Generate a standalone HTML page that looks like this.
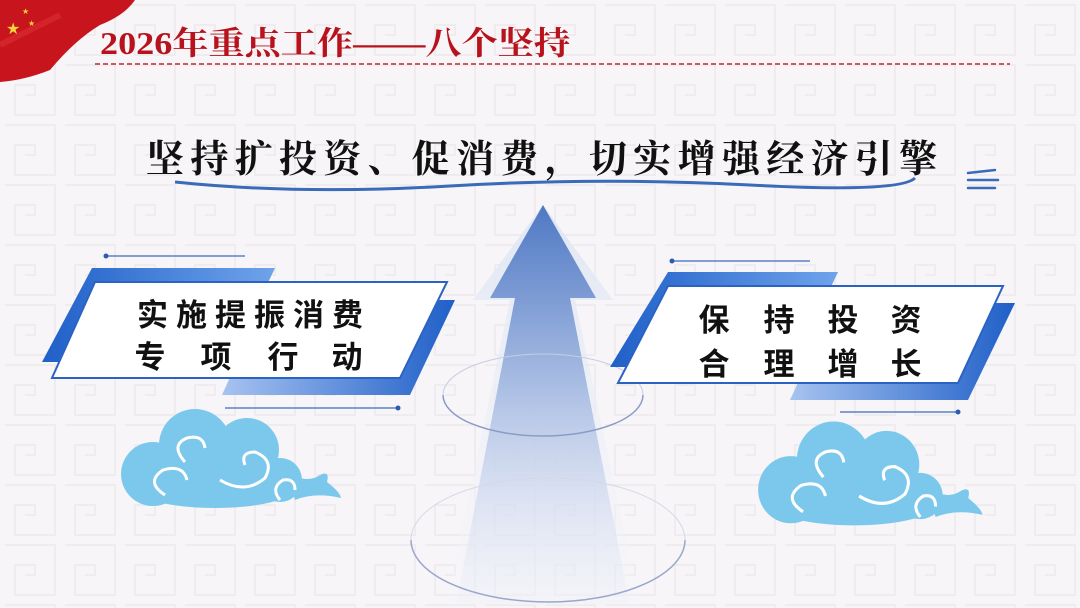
<!DOCTYPE html>
<html><head><meta charset="utf-8"><style>
html,body{margin:0;padding:0;width:1080px;height:608px;overflow:hidden;background:#f6f4f6}
svg{display:block}
</style></head><body>
<svg width="1080" height="608" viewBox="0 0 1080 608" xmlns="http://www.w3.org/2000/svg">
<defs>
<pattern id="bg" width="60" height="60" patternUnits="userSpaceOnUse">
<rect width="60" height="60" fill="#f7f5f7"/>
<path d="M5 5h50v50h-40v-30h20v10h-10" fill="none" stroke="#efecef" stroke-width="2"/>
</pattern>
<linearGradient id="arr" x1="0" y1="0" x2="0" y2="1">
<stop offset="0" stop-color="#4f78c4"/><stop offset="0.45" stop-color="#a9bde3"/><stop offset="1" stop-color="#eef1f9" stop-opacity="0.3"/>
</linearGradient>
<linearGradient id="arr2" x1="0" y1="0" x2="0" y2="1">
<stop offset="0" stop-color="#dfe6f4"/><stop offset="1" stop-color="#f4f5fa" stop-opacity="0.2"/>
</linearGradient>
<linearGradient id="bl" x1="0" y1="0" x2="1" y2="0">
<stop offset="0" stop-color="#1f5fc8"/><stop offset="1" stop-color="#6fa3ea"/>
</linearGradient>
<linearGradient id="bl2" x1="0" y1="0" x2="1" y2="0">
<stop offset="0" stop-color="#a7c3f0"/><stop offset="1" stop-color="#1f5fc8"/>
</linearGradient>
<g id="cloud">
<circle cx="80" cy="45" r="36" fill="#7cc8ec"/>
<circle cx="38" cy="74" r="32" fill="#7cc8ec"/>
<circle cx="132" cy="50" r="32" fill="#7cc8ec"/>
<circle cx="165" cy="80" r="22" fill="#7cc8ec"/>
<ellipse cx="100" cy="88" rx="80" ry="20" fill="#7cc8ec"/>
<path d="M170 70 Q190 85 205 75 Q215 70 212 82 Q225 92 226 98 Q200 92 180 100 Z" fill="#7cc8ec"/>
<path d="M70 62 Q55 45 72 38 Q88 34 90 48" fill="none" stroke="#fff" stroke-width="3"/>
<path d="M50 95 Q30 82 48 70 Q68 64 72 80" fill="none" stroke="#fff" stroke-width="3"/>
<path d="M105 80 Q130 95 150 78 Q160 60 140 52 Q125 52 130 65" fill="none" stroke="#fff" stroke-width="3"/>
<path d="M165 100 Q155 88 168 80 Q180 78 180 90" fill="none" stroke="#fff" stroke-width="3"/>
</g>
</defs>
<rect width="1080" height="608" fill="url(#bg)"/>

<!-- flag -->
<path d="M0 0H135Q125 15 100 25Q75 40 50 70Q25 80 0 82Z" fill="#c8141c"/>
<path d="M0 45Q30 30 60 15" fill="none" stroke="#e0333a" stroke-width="6" opacity="0.5"/>
<text x="6" y="34" font-size="16" fill="#f3d23a">★</text>
<text x="22" y="14" font-size="8" fill="#f3d23a">★</text>
<text x="28" y="26" font-size="8" fill="#f3d23a">★</text>

<text x="100" y="54" font-family="Liberation Serif,'Noto Serif CJK SC',serif" font-weight="bold" font-size="32" fill="#b8121c" textLength="470" lengthAdjust="spacingAndGlyphs">2026年重点工作——八个坚持</text>
<line x1="95" y1="64" x2="1010" y2="64" stroke="#c0272d" stroke-width="1.5" stroke-dasharray="5,3"/>

<text x="146" y="172" font-family="Liberation Serif,'Noto Serif CJK SC',serif" font-weight="bold" font-size="38" letter-spacing="6.3" fill="#111">坚持扩投资、促消费，切实增强经济引擎</text>
<path d="M175 182Q300 195 450 186T750 185T915 178" fill="none" stroke="#3a6ab8" stroke-width="3"/>
<g stroke="#3a6ab8" stroke-width="2.5" stroke-linecap="round"><line x1="968" y1="173" x2="995" y2="170"/><line x1="968" y1="180" x2="998" y2="180"/><line x1="968" y1="188" x2="995" y2="188"/></g>

<!-- arrow -->
<path d="M543 205L613 300H575L640 605H446L510 300H473Z" fill="url(#arr2)"/>
<path d="M543 205L596 298H570L630 605H456L515 298H490Z" fill="url(#arr)"/>
<path d="M443 395A100 41 0 0 0 643 395" fill="none" stroke="#8b9bc6" stroke-width="1.5"/>
<path d="M443 395A100 41 0 0 1 643 395" fill="none" stroke="#c5cde3" stroke-width="1"/>
<path d="M411 540A137 62 0 0 0 685 540" fill="none" stroke="#9aa7cc" stroke-width="1.5"/>
<path d="M411 540A137 62 0 0 1 685 540" fill="none" stroke="#d3d8e8" stroke-width="1"/>

<g font-family="Liberation Sans,'Noto Sans CJK SC',sans-serif" font-weight="bold" font-size="31" fill="#111" text-anchor="middle">
<!-- left box -->
<polygon points="92,268 275,268 230,362 42,362" fill="url(#bl)"/>
<polygon points="455,300 410,395 222,395 265,300" fill="url(#bl2)"/>
<polygon points="95,282 447,282 400,378 52,378" fill="#fff" stroke="#2a63c4" stroke-width="2"/>
<text x="250" y="326" textLength="226" lengthAdjust="spacing">实施提振消费</text>
<text y="368"><tspan x="150">专</tspan><tspan x="216">项</tspan><tspan x="283">行</tspan><tspan x="347">动</tspan></text>

<!-- right box -->
<polygon points="668,272 838,272 793,367 610,367" fill="url(#bl)"/>
<polygon points="1015,303 968,400 790,400 835,303" fill="url(#bl2)"/>
<polygon points="668,286 1003,286 958,383 618,383" fill="#fff" stroke="#2a63c4" stroke-width="2"/>
<text y="331"><tspan x="714">保</tspan><tspan x="779">持</tspan><tspan x="843">投</tspan><tspan x="906">资</tspan></text>
<text y="375"><tspan x="714">合</tspan><tspan x="779">理</tspan><tspan x="843">增</tspan><tspan x="906">长</tspan></text>
</g>
<line x1="106" y1="256" x2="245" y2="256" stroke="#3b6cc0" stroke-width="1.2"/><circle cx="106" cy="256" r="2.5" fill="#2a5db0"/>
<line x1="225" y1="408" x2="398" y2="408" stroke="#3b6cc0" stroke-width="1.2"/><circle cx="398" cy="408" r="2.5" fill="#2a5db0"/>
<line x1="672" y1="261" x2="810" y2="261" stroke="#3b6cc0" stroke-width="1.2"/><circle cx="672" cy="261" r="2.5" fill="#2a5db0"/>
<line x1="840" y1="412" x2="958" y2="412" stroke="#3b6cc0" stroke-width="1.2"/><circle cx="958" cy="412" r="2.5" fill="#2a5db0"/>

<use href="#cloud" transform="translate(115,400)"/>
<use href="#cloud" transform="translate(752,412) scale(1.02,1.05)"/>
</svg>
</body></html>
